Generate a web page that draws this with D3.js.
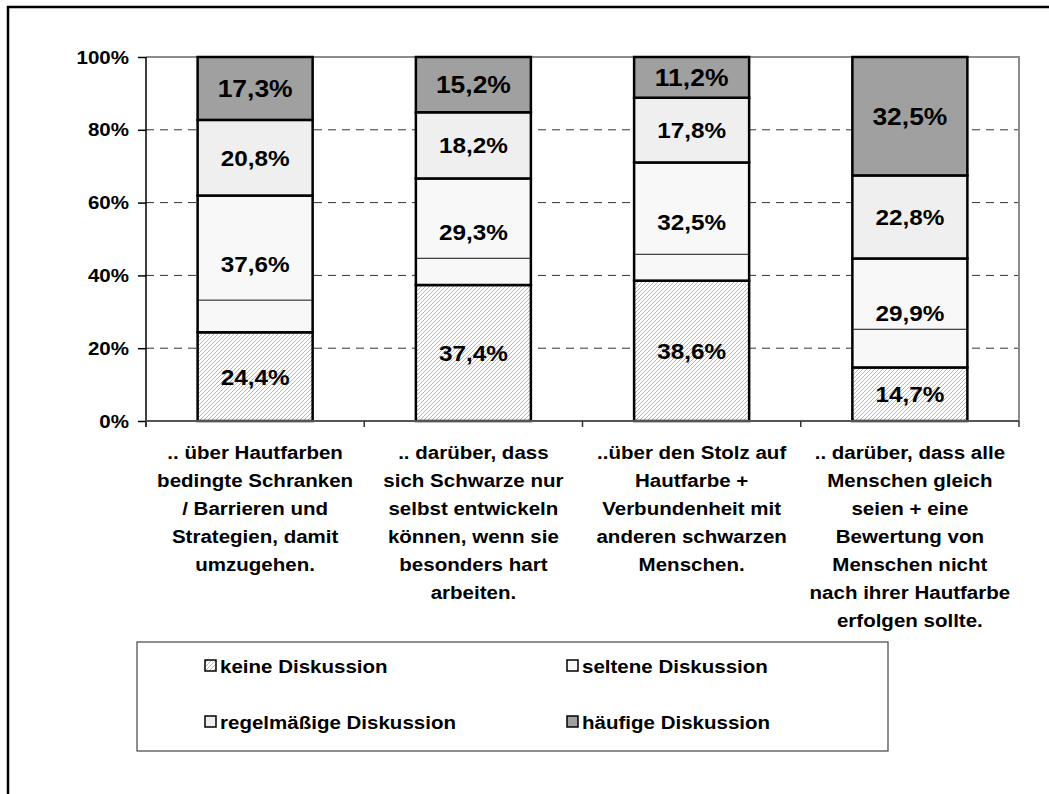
<!DOCTYPE html>
<html><head><meta charset="utf-8">
<script src="https://cdn.jsdelivr.net/npm/d3@7"></script>
<style>
html,body{margin:0;padding:0;background:#fff;}
svg{display:block;font-family:"Liberation Sans",Arial,Helvetica,sans-serif;font-weight:bold;}
</style></head>
<body>
<svg id="chart" width="1049" height="794"></svg>
<script>
const categories = [
  [".. über Hautfarben", "bedingte Schranken", "/ Barrieren und", "Strategien, damit", "umzugehen."],
  [".. darüber, dass", "sich Schwarze nur", "selbst entwickeln", "können, wenn sie", "besonders hart", "arbeiten."],
  ["..über den Stolz auf", "Hautfarbe +", "Verbundenheit mit", "anderen schwarzen", "Menschen."],
  [".. darüber, dass alle", "Menschen gleich", "seien + eine", "Bewertung von", "Menschen nicht", "nach ihrer Hautfarbe", "erfolgen sollte."]
];
const seriesNames = ["keine Diskussion", "seltene Diskussion", "regelmäßige Diskussion", "häufige Diskussion"];
const keine = [24.4, 37.4, 38.6, 14.7];
const seltene = [37.6, 29.3, 32.5, 29.9];
const regelmaessig = [20.8, 18.2, 17.8, 22.8];
const haeufig = [17.3, 15.2, 11.2, 32.5];
const innerLine = [33.2, 44.7, 45.8, 25.2]; // thin divider drawn inside the "seltene" segment
const yTicks = [0, 0.2, 0.4, 0.6, 0.8, 1];

const SX = 1.08; // horizontal text stretch of the original
const svg = d3.select("#chart");
const M = {left:146, right:1019, top:57, bottom:421};

// frame
svg.append("path").attr("d", "M8,794 L8,7 L1049,7").attr("fill","none").attr("stroke","#000").attr("stroke-width",2.5);

const defs = svg.append("defs");
const pat = defs.append("pattern").attr("id","hatch").attr("patternUnits","userSpaceOnUse")
  .attr("width",4).attr("height",4);
pat.append("rect").attr("width",4).attr("height",4).attr("fill","#fff");
pat.append("path").attr("d","M-1,1 l2,-2 M0,4 l4,-4 M3,5 l2,-2").attr("stroke","#b4b4b4").attr("stroke-width",1);

const fills = ["url(#hatch)", "#f8f8f8", "#efefef", "#a0a0a0"];

const idx = d3.range(categories.length);
const table = idx.map(i => ({i, s0:keine[i], s1:seltene[i], s2:regelmaessig[i], s3:haeufig[i]}));
const stack = d3.stack().keys(["s0","s1","s2","s3"]).offset(d3.stackOffsetExpand);
const layers = stack(table);

const x = d3.scaleBand().domain(idx).range([M.left, M.right]).paddingInner(0.473).paddingOuter(0.2365);
const y = d3.scaleLinear().domain([0,1]).range([M.bottom, M.top]);

// gridlines
svg.append("g").selectAll("line").data([0.2,0.4,0.6,0.8]).join("line")
  .attr("x1", M.left).attr("x2", M.right).attr("y1", d=>y(d)).attr("y2", d=>y(d))
  .attr("stroke","#333").attr("stroke-width",1).attr("stroke-dasharray","8,6");

// plot border top/right
svg.append("path").attr("d", `M${M.left},${M.top} L${M.right},${M.top} L${M.right},${M.bottom}`)
  .attr("fill","none").attr("stroke","#8c8c8c").attr("stroke-width",2);

// bars
const fmt = d3.formatLocale({decimal:",", thousands:".", grouping:[3], currency:["","€"]}).format(".1f");
const gBars = svg.append("g");
layers.forEach((layer, k) => {
  gBars.selectAll(null).data(layer).join("rect")
    .attr("x", d => x(d.data.i)).attr("width", x.bandwidth())
    .attr("y", d => y(d[1])).attr("height", d => y(d[0]) - y(d[1]))
    .attr("fill", fills[k]).attr("stroke","#000").attr("stroke-width",2.5);
});
// thin inner divider
gBars.selectAll(null).data(idx).join("line")
  .attr("x1", i => x(i) + 1).attr("x2", i => x(i) + x.bandwidth() - 1)
  .attr("y1", i => y(innerLine[i]/100)).attr("y2", i => y(innerLine[i]/100))
  .attr("stroke","#111").attr("stroke-width",1);

// value labels
const raw = [keine, seltene, regelmaessig, haeufig];
layers.forEach((layer, k) => {
  svg.append("g").selectAll("text").data(layer).join("text")
    .attr("transform", d => `translate(${x(d.data.i) + x.bandwidth()/2},${(y(d[0]) + y(d[1]))/2}) scale(${SX},1)`)
    .attr("text-anchor","middle").attr("dy","0.36em")
    .attr("font-size", k === 3 ? 24.5 : 22.5).attr("fill","#000")
    .text(d => fmt(raw[k][d.data.i]) + "%");
});

// y axis
const yAxis = d3.axisLeft(y).tickValues(yTicks).tickFormat(d3.format(".0%")).tickSize(8).tickPadding(9);
const gy = svg.append("g").attr("transform", `translate(${M.left},0)`).call(yAxis);
gy.select(".domain").remove();
gy.selectAll(".tick line").attr("stroke","#000").attr("stroke-width",1.5);
gy.selectAll(".tick text").attr("font-size",19).attr("font-family",null).attr("font-weight","bold")
  .attr("fill","#000").attr("x", null).attr("transform", `translate(-17,0) scale(${SX},1)`);
svg.append("line").attr("x1",M.left).attr("x2",M.left).attr("y1",M.top).attr("y2",M.bottom+6)
  .attr("stroke","#000").attr("stroke-width",1.5);

// x axis
svg.append("line").attr("x1",M.left).attr("x2",M.right).attr("y1",M.bottom).attr("y2",M.bottom)
  .attr("stroke","#555").attr("stroke-width",2);
const step = x.step();
svg.append("g").selectAll("line").data(d3.range(categories.length+1)).join("line")
  .attr("x1", j => M.left + j*step).attr("x2", j => M.left + j*step)
  .attr("y1", M.bottom).attr("y2", M.bottom + 6).attr("stroke","#333").attr("stroke-width",1.5);

// category labels
const gc = svg.append("g");
idx.forEach(i => {
  const cx = x(i) + x.bandwidth()/2;
  gc.selectAll(null).data(categories[i]).join("text")
    .attr("transform", (t, j) => `translate(${cx},${459 + j*28}) scale(${SX},1)`)
    .attr("text-anchor","middle").attr("font-size",19).attr("fill","#000")
    .text(t => t);
});

// legend
const lg = svg.append("g");
lg.append("rect").attr("x",137).attr("y",642).attr("width",751).attr("height",109)
  .attr("fill","#fff").attr("stroke","#444").attr("stroke-width",1.2);
const legPos = [[205,666],[567,666],[205,722],[567,722]];
seriesNames.forEach((name, k) => {
  const [lx, ly] = legPos[k];
  lg.append("rect").attr("x",lx).attr("y",ly-6).attr("width",11).attr("height",11)
    .attr("fill",fills[k]).attr("stroke","#000").attr("stroke-width",1.5);
  lg.append("text").attr("transform",`translate(${lx+15},${ly+6.5}) scale(${SX},1)`)
    .attr("font-size",19).attr("fill","#000").text(name);
});
</script>
</body></html>
